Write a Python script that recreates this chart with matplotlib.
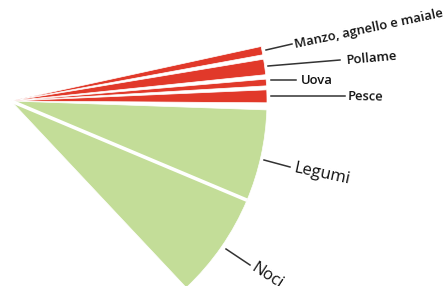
import numpy as np
import matplotlib.pyplot as plt
from matplotlib.patches import Wedge

categories = ['Manzo, agnello e maiale', 'Pollame', 'Uova', 'Pesce', 'Legumi', 'Noci']
spans = [1.9, 3.5, 1.5, 2.9, 20.8, 24.0]
gaps = [1.0, 1.0, 0.9, 1.6, 0.0, 0.0]   # gap after each wedge
colors = ['#e1392a'] * 4 + ['#c3dd98'] * 2
start_angle = 12.3

W, H = 448, 286
fig = plt.figure(figsize=(W / 100, H / 100), dpi=100)
ax = fig.add_axes([0, 0, 1, 1])
ax.set_xlim(0, W)
ax.set_ylim(0, H)
ax.set_aspect('equal')
ax.axis('off')

cx, cy, r = 11, 185, 256
theta = start_angle
for span, gap, c in zip(spans, gaps, colors):
    ax.add_patch(Wedge((cx, cy), r, theta - span, theta, facecolor=c,
                       edgecolor='white', linewidth=0.5))
    theta -= span + gap

# separator between Legumi and Noci
sep = start_angle - sum(spans[:5]) - sum(gaps[:5])
a = np.deg2rad(sep)
ax.plot([cx, cx + r * np.cos(a)], [cy, cy + r * np.sin(a)], color='white', lw=2.6,
        solid_capstyle='butt')

# labels: (leader start, leader end, text pos, rotation, size, weight)
labels = [
    ((266, 236), (292, 242), (295, 241), 12, 9.4, 'semibold'),
    ((268, 220), (340, 226), (346, 225), 5, 9.4, 'semibold'),
    ((271, 206), (296, 206), (301, 206), 0, 9.4, 'semibold'),
    ((271, 190), (345, 190), (348, 189), -1, 9.4, 'semibold'),
    ((264, 126), (290, 119), (294, 118), -12, 12, 'normal'),
    ((226, 37), (250, 21), (253, 19), -33, 12, 'normal'),
]
for name, (p0, p1, tp, rot, fs, fw) in zip(categories, labels):
    ax.plot([p0[0], p1[0]], [p0[1], p1[1]], color='#333333', lw=1.1)
    ax.text(tp[0], tp[1], name, rotation=rot, rotation_mode='anchor',
            ha='left', va='center', fontsize=fs, fontweight=fw,
            family=['Open Sans', 'DejaVu Sans'], color='#111111')

fig.savefig('out.png', dpi=100)
